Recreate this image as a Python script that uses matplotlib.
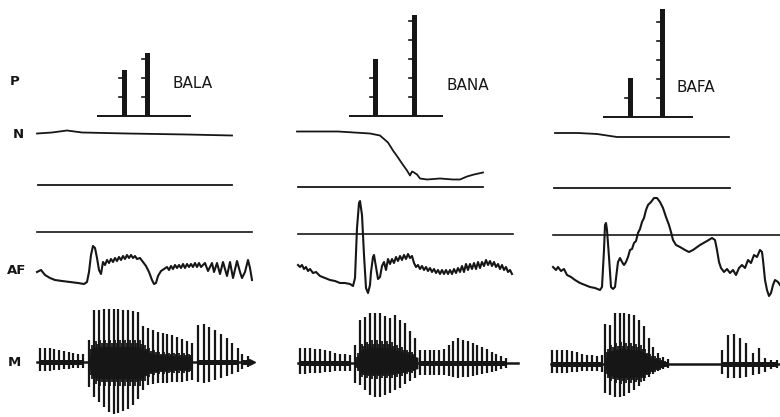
import numpy as np
import matplotlib
matplotlib.use('Agg')
import matplotlib.pyplot as plt

INK = '#161616'
plt.rcParams['font.family'] = ['DejaVu Sans']

# ---------------- text ----------------
words = ['BALA', 'BANA', 'BAFA']
row_labels = ['P', 'N', 'AF', 'M']

# ---------------- layout (pixels) ----------------
col_x0 = [37, 298, 553]
p_base_y = [116, 116, 117]
n_ref_y = [184.5, 186.5, 188]
af_zero_y = [232, 234, 235]
m_base_y = [362, 363, 364]
PX_PER_UNIT = 19

# ---------------- P : pressure bars ----------------
p_bar_t = [[87, 110], [77, 116], [77, 109]]
p_values = [[2.4, 3.3], [3.0, 5.3], [2.05, 5.7]]
p_axis_span = [(60, 154), (51, 145), (50, 140)]

# ---------------- N : nasal trace ----------------
n1_t = [0, 15, 30, 45, 90, 150, 195]
n1_v = [51, 52, 54, 52, 51, 50, 49]
n2_t = [-1, 40, 72, 82, 90, 95, 100, 104, 109, 112, 114, 116, 119, 122, 129,
        142, 155, 162, 169, 176, 185]
n2_v = [55, 55, 53, 51, 44, 36, 29, 23, 16, 11, 15, 14, 12, 8, 7, 8, 7, 7,
        10, 12, 14]
n3_t = [2, 25, 44, 64, 100, 140, 176]
n3_v = [55, 55, 54, 51, 51, 51, 51]
n_ref_span = [(1, 195), (0, 185), (1, 177)]

# ---------------- AF : airflow trace ----------------
af1_t = [0, 4, 8, 13, 18, 25, 33, 41, 47, 50, 52, 54, 56, 58, 60, 62, 64, 66,
         68, 70, 72, 74, 76, 78, 80, 82, 84, 86, 88, 90, 92, 94, 96, 98, 100,
         103, 106, 109, 112, 115, 117, 119, 121, 124, 127, 130, 132, 134, 136,
         138, 140, 142, 144, 146, 148, 150, 152, 154, 156, 158, 160, 162, 164,
         166, 168, 171, 175, 177, 180, 183, 186, 190, 193, 196, 200, 203, 205,
         208, 211, 213, 215]
af1_v = [-40, -38, -43, -46, -48, -49, -50, -51, -52, -50, -40, -23, -14, -16,
         -26, -38, -42, -30, -33, -28, -31, -27, -30, -26, -29, -25, -28, -24,
         -27, -23, -26, -23, -26, -24, -27, -26, -30, -34, -40, -48, -52, -51,
         -44, -39, -37, -35, -38, -34, -37, -33, -36, -33, -36, -32, -36, -32,
         -35, -32, -35, -31, -35, -31, -35, -33, -31, -39, -31, -40, -31, -42,
         -30, -44, -30, -46, -29, -40, -46, -40, -28, -36, -48]
af2_t = [0, 2, 4, 6, 8, 10, 12, 15, 18, 22, 27, 32, 37, 42, 47, 52, 55, 57, 59,
         61, 62, 64, 66, 68, 70, 72, 73, 75, 76, 78, 80, 82, 84, 86, 88, 90, 92,
         94, 96, 98] + list(range(100, 215, 2))
af2_v = [-31, -33, -31, -35, -33, -37, -35, -39, -38, -42, -44, -46, -47, -49,
         -49, -50, -52, -44, 6, 31, 33, 19, -21, -54, -59, -51, -38, -23, -21,
         -33, -45, -43, -32, -28, -36, -25, -30, -25, -29, -23,
         -27, -22, -26, -21, -25, -20, -24, -22, -29, -33,
         -31, -35, -32, -36, -33, -37, -34, -38, -35, -39,
         -36, -40, -36, -40, -36, -40, -36, -40, -35, -39,
         -34, -38, -32, -38, -30, -36, -30, -35, -29, -35,
         -28, -34, -28, -32, -26, -31, -27, -32, -28, -33,
         -30, -35, -31, -36, -33, -38, -36, -40]
af3_t = [0, 3, 5, 8, 11, 14, 18, 22, 27, 32, 37, 42, 47, 49, 51, 52, 53, 54,
         56, 58, 60, 62, 64, 65, 67, 69, 71, 73, 75, 77, 79, 81, 83, 85, 87, 89,
         91, 93, 95, 98, 101, 104, 107, 110, 113, 116, 118, 120, 123, 127, 132,
         136, 140, 147, 154, 159, 162, 164, 166, 168, 171, 174, 177, 180, 183,
         186, 189, 192, 195, 198, 201, 204, 207, 209, 210, 212, 214, 216, 218,
         220, 222, 225, 227]
af3_v = [-32, -35, -32, -36, -34, -40, -42, -45, -48, -50, -52, -53, -55, -52,
         -15, 10, 12, 5, -22, -52, -54, -52, -35, -27, -23, -27, -30, -27, -22,
         -15, -14, -8, -6, 2, 6, 13, 17, 25, 30, 33, 37, 37, 33, 27, 18, 10, 3,
         -5, -10, -12, -15, -17, -15, -10, -6, -3, -5, -15, -27, -33, -37, -34,
         -38, -35, -40, -33, -30, -33, -25, -28, -20, -22, -15, -17, -25, -45,
         -55, -61, -58, -50, -45, -47, -50]
af_zero_span = [(0, 215), (0, 215), (0, 227)]

# ---------------- M : microphone (pitch pulses) ----------------
m1_spans = [(3, 46), (52, 155), (161, 201), (205, 211)]
m1_ups = [[14, 14, 14, 13, 12, 11, 10, 9, 8, 8],
          [22, 52, 52, 53, 53, 53, 53, 52, 52, 51, 50, 36, 34, 32, 30, 29, 28,
           27, 25, 23, 21, 19],
          [37, 38, 35, 32, 28, 24, 19, 14],
          [8, 6]]
m1_downs = [[9, 9, 9, 8, 8, 7, 7, 6, 6, 6],
            [25, 35, 40, 45, 50, 52, 51, 49, 47, 43, 37, 28, 23, 22, 21, 21,
             21, 20, 20, 20, 19, 18],
            [20, 21, 20, 18, 16, 14, 12, 10],
            [7, 5]]
m1_core_t = [51, 55, 63, 103, 111, 123, 155]
m1_core_up = [0, 20, 22, 22, 14, 10, 8]
m1_core_dn = [0, 20, 24, 24, 15, 12, 10]
m1_range = (0, 215)

m2_spans = [(2, 52), (57, 117), (122, 208)]
m2_ups = [[15, 15, 15, 14, 14, 13, 12, 10, 9, 9, 8],
          [18, 43, 46, 50, 50, 50, 47, 45, 48, 43, 40, 32, 25],
          [13, 13, 13, 13, 13, 14, 18, 22, 25, 23, 22, 20, 18, 16, 14, 11, 9,
           7, 5]]
m2_downs = [[11, 11, 10, 10, 10, 9, 9, 8, 8, 8, 8],
            [20, 22, 27, 32, 34, 34, 32, 30, 27, 25, 21, 18, 15],
            [12, 12, 12, 12, 12, 12, 13, 14, 15, 14, 14, 13, 12, 11, 10, 9, 8,
             6, 5]]
m2_core_t = [57, 62, 72, 92, 107, 120]
m2_core_up = [0, 18, 23, 22, 14, 8]
m2_core_dn = [0, 14, 16, 15, 12, 8]
m2_range = (0, 220)

m3_spans = [(-1, 49), (52, 115), (169, 224)]
m3_ups = [[14, 14, 14, 14, 13, 12, 10, 9, 9, 8, 9],
          [40, 39, 51, 51, 51, 50, 49, 44, 38, 26, 17, 11, 7, 5],
          [14, 29, 30, 26, 21, 11, 16, 6, 4, 4]]
m3_downs = [[9, 9, 9, 9, 8, 8, 7, 7, 7, 7, 8],
            [29, 31, 33, 33, 32, 29, 26, 22, 17, 13, 10, 7, 5, 4],
            [10, 14, 14, 14, 13, 11, 10, 8, 5, 4]]
m3_core_t = [51, 55, 67, 87, 97, 115]
m3_core_up = [0, 18, 22, 20, 10, 2]
m3_core_dn = [0, 16, 20, 18, 10, 2]
m3_range = (-2, 227)

n_traces = [(n1_t, n1_v), (n2_t, n2_v), (n3_t, n3_v)]
af_traces = [(af1_t, af1_v), (af2_t, af2_v), (af3_t, af3_v)]
m_traces = [
    (m1_spans, m1_ups, m1_downs, m1_core_t, m1_core_up, m1_core_dn, m1_range),
    (m2_spans, m2_ups, m2_downs, m2_core_t, m2_core_up, m2_core_dn, m2_range),
    (m3_spans, m3_ups, m3_downs, m3_core_t, m3_core_up, m3_core_dn, m3_range),
]

# ---------------- figure ----------------
fig = plt.figure(figsize=(7.8, 4.17), dpi=100)
ax = fig.add_axes([0, 0, 1, 1])
ax.set_xlim(0, 780)
ax.set_ylim(417, 0)
ax.axis('off')

for c in range(3):
    x0 = col_x0[c]
    # P bars
    pb = p_base_y[c]
    s0, s1 = p_axis_span[c]
    ax.plot([x0 + s0, x0 + s1], [pb, pb], color=INK, lw=1.4,
            solid_capstyle='butt')
    for t, val in zip(p_bar_t[c], p_values[c]):
        h = val * PX_PER_UNIT
        ax.bar(x0 + t, -h, bottom=pb, width=5, color=INK, edgecolor='none')
        k = 1
        while k < val - 0.15:
            yk = pb - k * PX_PER_UNIT
            ax.plot([x0 + t - 5.5, x0 + t - 2], [yk, yk], color=INK, lw=1.2)
            k += 1
    ax.text(x0 + p_axis_span[c][1] + [-18, 4, -16][c], [83, 85, 87][c],
            words[c], fontsize=11, color=INK, ha='left', va='center')

    # N
    nt, nv = n_traces[c]
    nr = n_ref_y[c]
    ax.plot(x0 + np.array(nt), nr - np.array(nv), color=INK, lw=1.3)
    r0, r1 = n_ref_span[c]
    ax.plot([x0 + r0, x0 + r1], [nr, nr], color=INK, lw=1.3)

    # AF
    at, av = af_traces[c]
    az = af_zero_y[c]
    z0, z1 = af_zero_span[c]
    ax.plot([x0 + z0, x0 + z1], [az, az], color=INK, lw=1.2)
    ax.plot(x0 + np.array(at), az - np.array(av), color=INK, lw=1.5,
            solid_joinstyle='round')

    # M
    spans, ups, downs, ct, cu, cd, mr = m_traces[c]
    mb = m_base_y[c]
    ax.plot([x0 + mr[0], x0 + mr[1]], [mb, mb], color=INK, lw=1.8)
    ct_a = np.array(ct, dtype=float)
    cu_a = np.array(cu, dtype=float)
    cd_a = np.array(cd, dtype=float)
    # dense inner oscillation of the burst, drawn as thin strokes
    for (t0, t1), u, d in zip(spans, ups, downs):
        ts = np.linspace(t0, t1, len(u))
        if len(ts) > 1:
            step = ts[1] - ts[0]
            for frac, sc in ((0.33, 1.0), (0.66, 0.85)):
                sub = ts[:-1] + step * frac
                su = np.interp(sub, ct_a, cu_a, left=0, right=0) * sc
                sd = np.interp(sub, ct_a, cd_a, left=0, right=0) * sc
                keep = (su + sd) > 0
                ax.vlines(x0 + sub[keep], mb + sd[keep], mb - su[keep],
                          color=INK, lw=1.3)
        ax.vlines(x0 + ts, mb + np.array(d), mb - np.array(u), color=INK,
                  lw=1.6)
        ax.fill_between([x0 + t0 - 1, x0 + t1 + 1], mb - 2.5, mb + 2.5,
                        color=INK, lw=0)
    ax.fill_between(x0 + ct_a, mb - 0.7 * cu_a, mb + 0.7 * cd_a,
                    color=INK, lw=0)
    if c == 0:
        ax.plot([x0 + mr[1]], [mb], marker='>', ms=4, color=INK)

# row labels
label_pos = [(15, 81), (18, 134), (17, 271), (14, 362)]
for lab, (lx, ly) in zip(row_labels, label_pos):
    ax.text(lx, ly, lab, fontsize=9.5, fontweight='bold', color=INK,
            ha='center', va='center')

fig.savefig('out.png', dpi=100, facecolor='white')
